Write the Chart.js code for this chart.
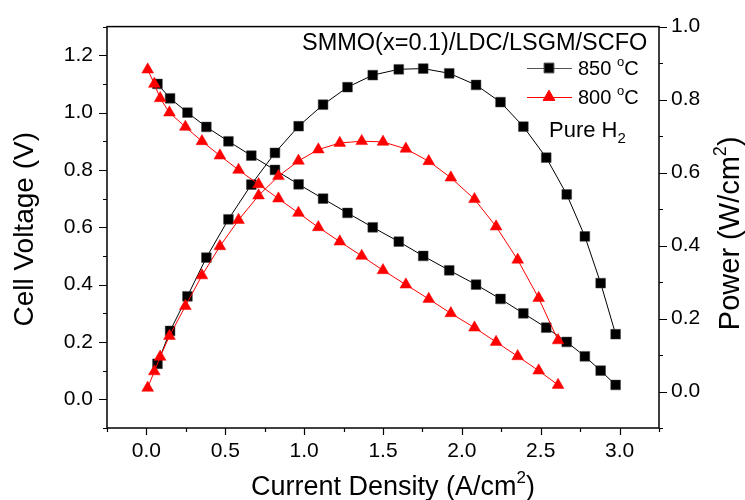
<!DOCTYPE html>
<html>
<head>
<meta charset="utf-8">
<script src="https://cdn.jsdelivr.net/npm/chart.js@4.4.0/dist/chart.umd.min.js"></script>
<style>
  html, body { margin: 0; padding: 0; background: #fff; }
  #wrap { width: 745px; height: 500px; }
</style>
</head>
<body>
<div id="wrap"><canvas id="fuelCell" width="745" height="500"></canvas></div>
<script>
// values
const current850 = [0.07, 0.15, 0.26, 0.38, 0.52, 0.665, 0.815, 0.965, 1.12, 1.275, 1.435, 1.60, 1.755, 1.92, 2.09, 2.245, 2.39, 2.535, 2.665, 2.78, 2.88, 2.975];
const voltage850 = [1.10, 1.05, 1.00, 0.95, 0.90, 0.85, 0.80, 0.75, 0.70, 0.65, 0.60, 0.55, 0.50, 0.45, 0.40, 0.35, 0.30, 0.25, 0.20, 0.15, 0.10, 0.05];
const power850 = [0.076, 0.166, 0.261, 0.367, 0.472, 0.567, 0.654, 0.727, 0.786, 0.834, 0.867, 0.883, 0.885, 0.872, 0.84, 0.793, 0.726, 0.641, 0.54, 0.425, 0.297, 0.157];

const current800 = [0.008, 0.05, 0.087, 0.146, 0.247, 0.352, 0.466, 0.584, 0.711, 0.837, 0.964, 1.09, 1.226, 1.365, 1.50, 1.645, 1.79, 1.93, 2.08, 2.217, 2.354, 2.487, 2.61];
const voltage800 = [1.15, 1.10, 1.05, 1.00, 0.95, 0.90, 0.85, 0.80, 0.75, 0.70, 0.65, 0.60, 0.55, 0.50, 0.45, 0.40, 0.35, 0.30, 0.25, 0.20, 0.15, 0.10, 0.05];
const power800 = [0.01, 0.055, 0.095, 0.152, 0.234, 0.318, 0.398, 0.47, 0.537, 0.59, 0.632, 0.663, 0.681, 0.686, 0.684, 0.665, 0.631, 0.586, 0.527, 0.452, 0.361, 0.256, 0.14];

const xTickValues = [0, 0.5, 1.0, 1.5, 2.0, 2.5, 3.0];
const voltageTicks = [0, 0.2, 0.4, 0.6, 0.8, 1.0, 1.2];
const powerTicks = [0, 0.2, 0.4, 0.6, 0.8, 1.0];

const cellLabel = 'SMMO(x=0.1)/LDC/LSGM/SCFO';
const legendTemps = ['850', '800'];

const FONT = '"Liberation Sans", Arial, sans-serif';

const toPoints = (xs, ys) => xs.map((x, i) => ({ x: x, y: ys[i] }));

// draws a run of text pieces (for super/subscripts)
function drawRich(ctx, parts, x, y, align) {
  let total = 0;
  parts.forEach(p => {
    ctx.font = p.size + 'px ' + FONT;
    p.w = ctx.measureText(p.t).width;
    total += p.w;
  });
  let cx = align === 'center' ? x - total / 2 : x;
  ctx.textAlign = 'left';
  ctx.textBaseline = 'alphabetic';
  parts.forEach(p => {
    ctx.font = p.size + 'px ' + FONT;
    ctx.fillText(p.t, cx, y + (p.dy || 0));
    cx += p.w;
  });
}

const decorPlugin = {
  id: 'decor',
  afterDraw(chart) {
    const ctx = chart.ctx;
    const area = chart.chartArea;
    const xs = chart.scales.x, yv = chart.scales.yV, yp = chart.scales.yP;
    ctx.save();
    ctx.strokeStyle = '#000';
    ctx.fillStyle = '#000';

    // frame
    ctx.lineWidth = 1.5;
    ctx.strokeRect(area.left, area.top, area.right - area.left, area.bottom - area.top);

    // ticks, major + minor
    ctx.lineWidth = 1.2;
    ctx.beginPath();
    for (let k = -1; k <= 13; k++) {
      const px = Math.round(xs.getPixelForValue(k / 4)) + 0.5;
      const len = k % 2 === 0 ? 7 : 4;
      ctx.moveTo(px, area.bottom);
      ctx.lineTo(px, area.bottom + len);
    }
    for (let k = -1; k <= 13; k++) {
      const py = Math.round(yv.getPixelForValue(k / 10)) + 0.5;
      const len = k % 2 === 0 ? 8 : 4;
      ctx.moveTo(area.left, py);
      ctx.lineTo(area.left - len, py);
    }
    for (let k = -1; k <= 10; k++) {
      const py = Math.round(yp.getPixelForValue(k / 10)) + 0.5;
      const len = k % 2 === 0 ? 8 : 4;
      ctx.moveTo(area.right, py);
      ctx.lineTo(area.right + len, py);
    }
    ctx.stroke();

    // axis titles
    drawRich(ctx, [
      { t: 'Current Density (A/cm', size: 27 },
      { t: '2', size: 17, dy: -12 },
      { t: ')', size: 27 }
    ], 393, 495, 'center');

    ctx.save();
    ctx.translate(33, (area.top + area.bottom) / 2 + 2);
    ctx.rotate(-Math.PI / 2);
    drawRich(ctx, [{ t: 'Cell Voltage (V)', size: 28 }], 0, 0, 'center');
    ctx.restore();

    ctx.save();
    ctx.translate(739, (area.top + area.bottom) / 2 + 6);
    ctx.rotate(-Math.PI / 2);
    drawRich(ctx, [
      { t: 'Power (W/cm', size: 29 },
      { t: '2', size: 18, dy: -13 },
      { t: ')', size: 29 }
    ], 0, 0, 'center');
    ctx.restore();

    // legend block
    drawRich(ctx, [{ t: cellLabel, size: 23.5 }], 302, 50, 'left');

    const rows = [
      { y: 68, line: '#555', ds: chart.data.datasets[2] },
      { y: 97, line: '#ff0000', ds: chart.data.datasets[0] }
    ];
    rows.forEach((r, i) => {
      ctx.strokeStyle = r.line;
      ctx.lineWidth = 1;
      ctx.beginPath();
      ctx.moveTo(527, r.y + 0.5);
      ctx.lineTo(572, r.y + 0.5);
      ctx.stroke();
      ctx.fillStyle = r.ds.pointBackgroundColor;
      ctx.strokeStyle = r.ds.pointBorderColor;
      Chart.helpers.drawPoint(ctx, {
        pointStyle: r.ds.pointStyle,
        radius: r.ds.pointRadius,
        borderWidth: r.ds.pointBorderWidth,
        rotation: 0
      }, 549, r.y);
      ctx.fillStyle = '#000';
      drawRich(ctx, [
        { t: legendTemps[i] + ' ', size: 20 },
        { t: 'o', size: 13, dy: -9 },
        { t: 'C', size: 20 }
      ], 578, r.y + 7, 'left');
    });

    drawRich(ctx, [
      { t: 'Pure H', size: 22 },
      { t: '2', size: 15, dy: 6 }
    ], 549, 137, 'left');

    ctx.restore();
  }
};

const tickFont = { family: FONT, size: 21 };

new Chart(document.getElementById('fuelCell'), {
  type: 'scatter',
  data: {
    datasets: [
      {
        label: '800 °C voltage',
        data: toPoints(current800, voltage800),
        yAxisID: 'yV',
        showLine: true,
        borderColor: '#ff0000',
        borderWidth: 1,
        pointStyle: 'triangle',
        pointRadius: 6.8,
        pointBackgroundColor: '#ff0000',
        pointBorderColor: '#ff0000',
        pointBorderWidth: 0.5
      },
      {
        label: '800 °C power',
        data: toPoints(current800, power800),
        yAxisID: 'yP',
        showLine: true,
        borderColor: '#ff0000',
        borderWidth: 1,
        pointStyle: 'triangle',
        pointRadius: 6.8,
        pointBackgroundColor: '#ff0000',
        pointBorderColor: '#ff0000',
        pointBorderWidth: 0.5
      },
      {
        label: '850 °C voltage',
        data: toPoints(current850, voltage850),
        yAxisID: 'yV',
        showLine: true,
        borderColor: '#000',
        borderWidth: 1,
        pointStyle: 'rect',
        pointRadius: 6.9,
        pointBackgroundColor: '#000',
        pointBorderColor: '#444',
        pointBorderWidth: 0.5
      },
      {
        label: '850 °C power',
        data: toPoints(current850, power850),
        yAxisID: 'yP',
        showLine: true,
        borderColor: '#000',
        borderWidth: 1,
        pointStyle: 'rect',
        pointRadius: 6.9,
        pointBackgroundColor: '#000',
        pointBorderColor: '#444',
        pointBorderWidth: 0.5
      }
    ]
  },
  options: {
    responsive: false,
    animation: false,
    devicePixelRatio: 1,
    layout: { padding: { top: 24, left: 0, right: 0, bottom: 0 } },
    plugins: { legend: { display: false }, tooltip: { enabled: false } },
    scales: {
      x: {
        type: 'linear',
        position: 'bottom',
        min: -0.25,
        max: 3.25,
        afterBuildTicks: s => { s.ticks = xTickValues.map(v => ({ value: v })); },
        afterFit: s => { s.height = 72; },
        grid: { display: false, drawTicks: false },
        border: { display: false },
        ticks: { color: '#000', font: tickFont, padding: 11, maxRotation: 0, callback: v => v.toFixed(1) }
      },
      yV: {
        type: 'linear',
        position: 'left',
        min: -0.1,
        max: 1.3,
        afterBuildTicks: s => { s.ticks = voltageTicks.map(v => ({ value: v })); },
        afterFit: s => { s.width = 107; },
        grid: { display: false, drawTicks: false },
        border: { display: false },
        ticks: { color: '#000', font: tickFont, padding: 14, callback: v => v.toFixed(1) }
      },
      yP: {
        type: 'linear',
        position: 'right',
        min: -0.1,
        max: 1.0,
        afterBuildTicks: s => { s.ticks = powerTicks.map(v => ({ value: v })); },
        afterFit: s => { s.width = 86; },
        grid: { display: false, drawTicks: false },
        border: { display: false },
        ticks: { color: '#000', font: tickFont, padding: 12, callback: v => v.toFixed(1) }
      }
    }
  },
  plugins: [decorPlugin]
});
</script>
</body>
</html>
